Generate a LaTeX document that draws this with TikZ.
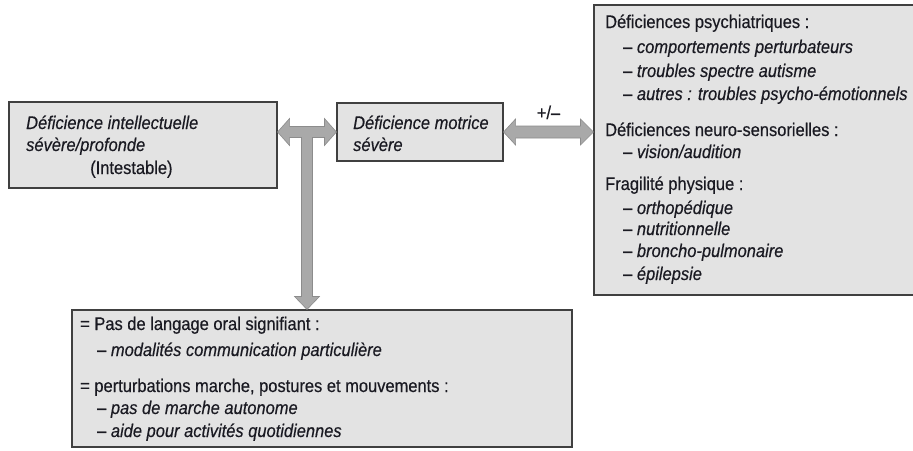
\documentclass[tikz,border=0pt]{standalone}
\usepackage{fontspec}
\setmainfont{Liberation Sans}[FakeStretch=0.9, FakeBold=0.4]
\usetikzlibrary{calc}
\definecolor{boxfill}{HTML}{E3E3E3}
\definecolor{boxline}{HTML}{404040}
\definecolor{arrfill}{HTML}{A9A9A9}
\definecolor{arrline}{HTML}{8C8C8C}
\definecolor{txtcol}{HTML}{1A1A22}
\begin{document}
\begin{tikzpicture}[x=1pt,y=1pt,
  box/.style={draw=boxline, fill=boxfill, line width=1.1pt, inner sep=0pt, rectangle},
  txt/.style={anchor=base west, inner sep=0pt, text=txtcol, font=\fontsize{18.3}{22}\selectfont},
  bigarrow/.style={fill=arrfill, draw=arrline, line width=0.6pt, line join=miter}]
\useasboundingbox (0,0) rectangle (913,-450);
\fill[white] (0,0) rectangle (913,-450);

% boxes
\node[box, minimum width=268, minimum height=86] (L) at (143,-145) {};
\node[box, minimum width=166, minimum height=58] (M) at (420,-132) {};
\node[box, minimum width=326, minimum height=290] (R) at (757,-150) {};
\node[box, minimum width=500, minimum height=137] (B) at (322,-378.5) {};

% left box text
\node[txt] (l1) at (26,-129) {\textit{Déficience intellectuelle}};
\node[txt] (l2) at (26,-151) {\textit{sévère/profonde}};
\node[txt] (l3) at (90,-174) {(Intestable)};

% middle box text
\node[txt] (m1) at (353,-129) {\textit{Déficience motrice}};
\node[txt] (m2) at (353,-151) {\textit{sévère}};

% right box text
\node[txt] (r1) at (605,-28) {Déficiences psychiatriques :};
\node[txt] (r2) at (623,-53) {– \textit{comportements perturbateurs}};
\node[txt] (r3) at (623,-77) {– \textit{troubles spectre autisme}};
\node[txt] (r4) at (623,-100) {– \textit{autres : troubles psycho-émotionnels}};
\node[txt] (r5) at (605,-136) {Déficiences neuro-sensorielles :};
\node[txt] (r6) at (623,-158) {– \textit{vision/audition}};
\node[txt] (r7) at (605,-190) {Fragilité physique :};
\node[txt] (r8) at (623,-214) {– \textit{orthopédique}};
\node[txt] (r9) at (623,-235) {– \textit{nutritionnelle}};
\node[txt] (r10) at (623,-257) {– \textit{broncho-pulmonaire}};
\node[txt] (r11) at (623,-280) {– \textit{épilepsie}};

% bottom box text
\node[txt] (b1) at (80,-330) {= Pas de langage oral signifiant :};
\node[txt] (b2) at (97,-356) {– \textit{modalités communication particulière}};
\node[txt] (b3) at (80,-392) {= perturbations marche, postures et mouvements :};
\node[txt] (b4) at (97,-414) {– \textit{pas de marche autonome}};
\node[txt] (b5) at (97,-437) {– \textit{aide pour activités quotidiennes}};

% T-shaped arrow between L, M and down to B
\coordinate (mx) at ($(L.east)!0.5!(M.west)$);
\draw[bigarrow] let \p1=(L.east |- M.west), \p2=(M.west), \p3=(B.north -| mx) in
  (\x1,\y1) -- (\x1+12pt,\y1+13.5pt) -- (\x1+12pt,\y1+5.5pt)
  -- (\x2-12pt,\y1+5.5pt) -- (\x2-12pt,\y1+13.5pt) -- (\x2,\y2)
  -- (\x2-12pt,\y1-13.5pt) -- (\x2-12pt,\y1-5.5pt)
  -- (\x3+5.5pt,\y1-5.5pt) -- (\x3+5.5pt,\y3+13pt) -- (\x3+12.5pt,\y3+13pt)
  -- (\x3,\y3) -- (\x3-12.5pt,\y3+13pt) -- (\x3-5.5pt,\y3+13pt)
  -- (\x3-5.5pt,\y1-5.5pt) -- (\x1+12pt,\y1-5.5pt) -- (\x1+12pt,\y1-13.5pt) -- cycle;

% double arrow between M and R
\draw[bigarrow] let \p1=(M.east), \p2=(R.west |- M.east) in
  (\x1,\y1) -- (\x1+12pt,\y1+13pt) -- (\x1+12pt,\y1+6pt)
  -- (\x2-13pt,\y1+6pt) -- (\x2-13pt,\y1+13pt) -- (\x2,\y2)
  -- (\x2-13pt,\y1-13pt) -- (\x2-13pt,\y1-6pt)
  -- (\x1+12pt,\y1-6pt) -- (\x1+12pt,\y1-13pt) -- cycle;
\node[txt, anchor=base] (pm) at ($(M.east)!0.5!(R.west |- M.east)+(0,13)$) {+/–};
\end{tikzpicture}
\end{document}
